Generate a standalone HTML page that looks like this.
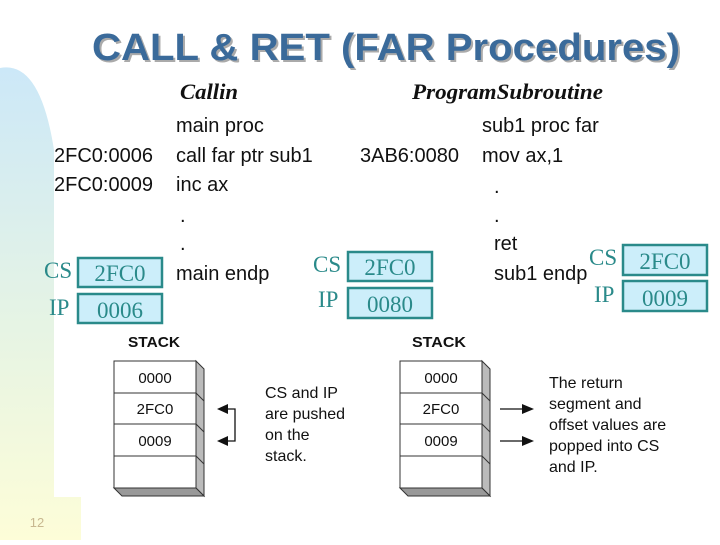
<!DOCTYPE html>
<html><head><meta charset="utf-8"><style>
body{margin:0;width:720px;height:540px;overflow:hidden;background:#fff}
</style></head><body>
<svg width="720" height="540" viewBox="0 0 720 540" xmlns="http://www.w3.org/2000/svg">
<defs>
<linearGradient id="bg" x1="0" y1="0" x2="0" y2="1">
<stop offset="0" stop-color="#cce8f8"/><stop offset="0.55" stop-color="#e6f4e4"/><stop offset="1" stop-color="#fdfdd8"/>
</linearGradient>
</defs>
<path d="M0 68 Q40 60 54 150 L54 497 L81 497 L81 540 L0 540 Z" fill="url(#bg)"/>
<text x="37" y="527" font-family="Liberation Sans, sans-serif" font-size="13" fill="#c8b890" text-anchor="middle">12</text>
<g font-family="Liberation Sans, sans-serif" font-weight="bold" font-size="38">
<text x="388" y="62" fill="#aaa" text-anchor="middle" textLength="588" lengthAdjust="spacingAndGlyphs">CALL &amp; RET (FAR Procedures)</text>
<text x="386" y="60" fill="#3a6a9a" text-anchor="middle" textLength="588" lengthAdjust="spacingAndGlyphs">CALL &amp; RET (FAR Procedures)</text>
</g>
<g font-family="Liberation Serif, serif" font-weight="bold" font-style="italic" font-size="22" fill="#111">
<text x="180" y="99" textLength="58" lengthAdjust="spacingAndGlyphs">Callin</text>
<text x="412" y="99" textLength="191" lengthAdjust="spacingAndGlyphs">ProgramSubroutine</text>
</g>
<g font-family="Liberation Sans, sans-serif" font-size="20" fill="#111">
<text x="176" y="132">main proc</text>
<text x="54" y="162">2FC0:0006</text><text x="176" y="162">call far ptr sub1</text>
<text x="54" y="191">2FC0:0009</text><text x="176" y="191">inc ax</text>
<text x="180" y="222">.</text><text x="180" y="250">.</text>
<text x="176" y="280">main endp</text>
<text x="482" y="132">sub1 proc far</text>
<text x="360" y="162">3AB6:0080</text><text x="482" y="162">mov ax,1</text>
<text x="494" y="193">.</text><text x="494" y="222">.</text>
<text x="494" y="250">ret</text>
<text x="494" y="280">sub1 endp</text>
</g>
<g font-family="Liberation Serif, serif" font-size="23" fill="#2a8a8a">
<g fill="#cceefa" stroke="#2a8a8a" stroke-width="2.5">
<rect x="78" y="258" width="84" height="29"/><rect x="78" y="294" width="84" height="29"/>
<rect x="348" y="252" width="84" height="29"/><rect x="348" y="288" width="84" height="30"/>
<rect x="623" y="245" width="84" height="30"/><rect x="623" y="281" width="84" height="30"/>
</g>
<text x="44" y="278">CS</text><text x="49" y="315">IP</text>
<text x="120" y="281" text-anchor="middle">2FC0</text><text x="120" y="318" text-anchor="middle">0006</text>
<text x="313" y="272">CS</text><text x="318" y="307">IP</text>
<text x="390" y="275" text-anchor="middle">2FC0</text><text x="390" y="312" text-anchor="middle">0080</text>
<text x="589" y="265">CS</text><text x="594" y="302">IP</text>
<text x="665" y="269" text-anchor="middle">2FC0</text><text x="665" y="306" text-anchor="middle">0009</text>
</g>
<g font-family="Liberation Sans, sans-serif" font-weight="bold" font-size="15" fill="#111">
<text x="128" y="347" textLength="52" lengthAdjust="spacingAndGlyphs">STACK</text><text x="412" y="347" textLength="54" lengthAdjust="spacingAndGlyphs">STACK</text>
</g>
<g id="st" stroke="#333" stroke-width="1">
<polygon points="196,361 204,369 204,496 196,488" fill="#bbb"/>
<polygon points="114,488 196,488 204,496 122,496" fill="#999"/>
<rect x="114" y="361" width="82" height="127" fill="#fff"/>
<line x1="114" y1="393" x2="196" y2="393"/><line x1="114" y1="424" x2="196" y2="424"/><line x1="114" y1="456" x2="196" y2="456"/>
<line x1="196" y1="393" x2="204" y2="401"/><line x1="196" y1="424" x2="204" y2="432"/><line x1="196" y1="456" x2="204" y2="464"/>
</g>
<use href="#st" x="286"/>
<g font-family="Liberation Sans, sans-serif" font-size="15" fill="#111">
<text x="155" y="383" text-anchor="middle">0000</text><text x="155" y="414" text-anchor="middle">2FC0</text><text x="155" y="446" text-anchor="middle">0009</text>
<text x="441" y="383" text-anchor="middle">0000</text><text x="441" y="414" text-anchor="middle">2FC0</text><text x="441" y="446" text-anchor="middle">0009</text>
</g>
<g font-family="Liberation Sans, sans-serif" font-size="16" fill="#111">
<text x="265" y="398">CS and IP</text><text x="265" y="419">are pushed</text><text x="265" y="440">on the</text><text x="265" y="461">stack.</text>
<text x="549" y="388">The return</text><text x="549" y="409">segment and</text><text x="549" y="430">offset values are</text><text x="549" y="451">popped into CS</text><text x="549" y="472">and IP.</text>
</g>
<g stroke="#111" stroke-width="1.3" fill="none">
<polyline points="225,409 235,409 235,441 225,441"/>
<line x1="500" y1="409" x2="524" y2="409"/><line x1="500" y1="441" x2="524" y2="441"/>
</g>
<g fill="#111">
<polygon points="217,409 228,404 228,414"/><polygon points="217,441 228,436 228,446"/>
<polygon points="534,409 522,404 522,414"/><polygon points="534,441 522,436 522,446"/>
</g>
</svg>
</body></html>
